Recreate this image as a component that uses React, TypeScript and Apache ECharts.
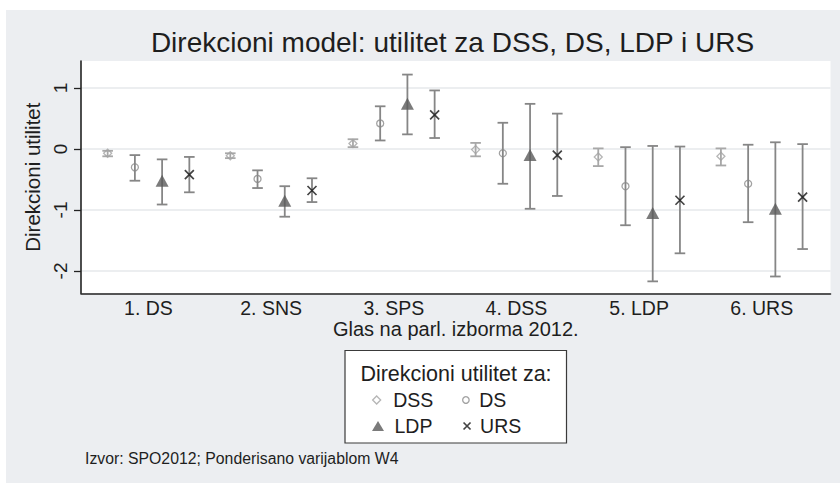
import React, { useEffect, useRef } from 'react';
import * as echarts from 'echarts';

// ---- data ----
const categories = ['1. DS', '2. SNS', '3. SPS', '4. DSS', '5. LDP', '6. URS'];
const yTicks = [-2, -1, 0, 1];
const seriesNames = ['DSS', 'DS', 'LDP', 'URS'];

const dssEst = [-0.07, -0.11, 0.09, -0.01, -0.13, -0.12];
const dssLow = [-0.12, -0.15, 0.03, -0.12, -0.28, -0.27];
const dssHigh = [-0.03, -0.07, 0.16, 0.10, 0.01, 0.01];

const dsEst = [-0.30, -0.49, 0.42, -0.07, -0.61, -0.57];
const dsLow = [-0.52, -0.64, 0.14, -0.57, -1.25, -1.20];
const dsHigh = [-0.10, -0.35, 0.70, 0.43, 0.03, 0.07];

const ldpEst = [-0.52, -0.85, 0.74, -0.10, -1.05, -0.98];
const ldpLow = [-0.91, -1.11, 0.24, -0.98, -2.17, -2.09];
const ldpHigh = [-0.17, -0.61, 1.22, 0.74, 0.05, 0.11];

const ursEst = [-0.42, -0.68, 0.56, -0.10, -0.84, -0.79];
const ursLow = [-0.71, -0.87, 0.18, -0.77, -1.71, -1.64];
const ursHigh = [-0.13, -0.48, 0.96, 0.58, 0.04, 0.08];

const title = 'Direkcioni model: utilitet za DSS, DS, LDP i URS';
const xTitle = 'Glas na parl. izborma 2012.';
const yTitle = 'Direkcioni utilitet';
const legendTitle = 'Direkcioni utilitet za:';
const note = 'Izvor: SPO2012; Ponderisano varijablom W4';

// ---- styling ----
const FONT = '"Liberation Sans", Arial, Helvetica, sans-serif';
const TXT = '#1e1e1e';
const X_SYMBOL = 'path://M0,0L10,10M10,0L0,10';
const DIAMOND_ICON = 'path://M5,0L10,5L5,10L0,5Z';
const TRIANGLE_ICON = 'path://M6,0L12,10L0,10Z';

const groupPos = categories.map((_, i) => i + 1);
const dodge = [-1.5, -0.5, 0.5, 1.5].map((k) => k * 0.222);

type SeriesDef = {
  name: string;
  est: number[];
  low: number[];
  high: number[];
  symbol: string;
  size: number | number[];
  itemStyle: any;
  barColor: string;
  legendIcon: string;
};

const defs: SeriesDef[] = [
  {
    name: seriesNames[0], est: dssEst, low: dssLow, high: dssHigh,
    symbol: 'diamond', size: 8,
    itemStyle: { color: 'rgba(255,255,255,0)', borderColor: '#a2a2a2', borderWidth: 1.3 },
    barColor: '#a8a8a8',
    legendIcon: DIAMOND_ICON,
  },
  {
    name: seriesNames[1], est: dsEst, low: dsLow, high: dsHigh,
    symbol: 'circle', size: 7,
    itemStyle: { color: 'rgba(255,255,255,0)', borderColor: '#8a8a8a', borderWidth: 1.3 },
    barColor: '#868686',
    legendIcon: 'circle',
  },
  {
    name: seriesNames[2], est: ldpEst, low: ldpLow, high: ldpHigh,
    symbol: 'triangle', size: [13, 12],
    itemStyle: { color: '#5a5a5a', borderWidth: 0 },
    barColor: '#868686',
    legendIcon: TRIANGLE_ICON,
  },
  {
    name: seriesNames[3], est: ursEst, low: ursLow, high: ursHigh,
    symbol: X_SYMBOL, size: 9,
    itemStyle: { color: 'rgba(255,255,255,0)', borderColor: '#141414', borderWidth: 1.7 },
    barColor: '#868686',
    legendIcon: X_SYMBOL,
  },
];

function buildOption() {
  const series: any[] = [];
  defs.forEach((d, s) => {
    series.push({
      name: d.name + ' CI',
      type: 'custom',
      z: 2,
      silent: true,
      data: d.est.map((_, i) => [groupPos[i] + dodge[s], d.low[i], d.high[i]]),
      encode: { x: 0, y: [1, 2] },
      renderItem: (params: any, api: any) => {
        const x = api.value(0);
        const p1 = api.coord([x, api.value(2)]);
        const p2 = api.coord([x, api.value(1)]);
        const half = 5.3;
        const st = { stroke: d.barColor, lineWidth: 1.8, fill: 'none' };
        return {
          type: 'group',
          children: [
            { type: 'line', shape: { x1: p1[0], y1: p1[1], x2: p2[0], y2: p2[1] }, style: st },
            { type: 'line', shape: { x1: p1[0] - half, y1: p1[1], x2: p1[0] + half, y2: p1[1] }, style: st },
            { type: 'line', shape: { x1: p2[0] - half, y1: p2[1], x2: p2[0] + half, y2: p2[1] }, style: st },
          ],
        };
      },
    });
  });
  defs.forEach((d, s) => {
    series.push({
      name: d.name,
      type: 'scatter',
      z: 3,
      symbol: d.symbol,
      symbolSize: d.size,
      itemStyle: d.itemStyle,
      data: d.est.map((v, i) => [groupPos[i] + dodge[s], v]),
    });
  });

  const legendText = { fontSize: 19.5, color: TXT, fontFamily: FONT, lineHeight: 20 };
  const mkLegend = (def: SeriesDef, left: number, top: number, w: number, h: number) => ({
    data: [def.name],
    left, top,
    orient: 'horizontal',
    padding: 0,
    icon: def.legendIcon,
    symbolKeepAspect: true,
    itemWidth: w,
    itemHeight: h,
    selectedMode: false,
    textStyle: legendText,
    itemStyle: { ...def.itemStyle },
  });

  return {
    animation: false,
    backgroundColor: 'transparent',
    textStyle: { fontFamily: FONT },
    grid: {
      left: 81, right: 9.5, top: 61, bottom: 189.7,
      show: true, backgroundColor: '#ffffff', borderWidth: 0,
    },
    xAxis: {
      type: 'value',
      min: 0.4497,
      max: 6.5605,
      name: xTitle,
      nameLocation: 'middle',
      nameGap: 25.5,
      nameTextStyle: { fontSize: 20, color: TXT, fontFamily: FONT },
      axisLine: { show: true, onZero: false, lineStyle: { color: '#222', width: 1.6 } },
      axisTick: { show: false },
      splitLine: { show: false },
      axisLabel: {
        customValues: groupPos,
        formatter: (v: number) => categories[Math.round(v) - 1] ?? '',
        fontSize: 19.5,
        color: TXT,
        fontFamily: FONT,
        margin: 5,
      },
    },
    yAxis: {
      type: 'value',
      min: -2.3656,
      max: 1.4426,
      name: yTitle,
      nameLocation: 'middle',
      nameGap: 33,
      nameTextStyle: { fontSize: 20.5, color: TXT, fontFamily: FONT },
      axisLine: { show: true, lineStyle: { color: '#222', width: 1.6 } },
      axisTick: { show: true, customValues: yTicks, length: 7, lineStyle: { color: '#222', width: 1.3 } },
      splitLine: { show: true, lineStyle: { color: '#e6e8eb', width: 1.5 } },
      axisLabel: {
        customValues: yTicks,
        rotate: 90,
        fontSize: 19,
        color: TXT,
        fontFamily: FONT,
        margin: 11,
      },
    },
    legend: [
      mkLegend(defs[0], 372, 390, 23, 8),
      mkLegend(defs[1], 462, 390, 16.6, 6.5),
      mkLegend(defs[2], 372, 416, 23, 10),
      mkLegend(defs[3], 462.7, 416, 16, 7),
    ],
    graphic: [
      {
        type: 'text', x: 452.5, y: 42, silent: true,
        style: { text: title, fontSize: 28, fill: TXT, fontFamily: FONT, textAlign: 'center', textVerticalAlign: 'middle' },
      },
      {
        type: 'rect', x: 345, y: 350.5, z: -1, silent: true,
        shape: { width: 221.5, height: 92.5 },
        style: { fill: '#ffffff', stroke: '#3a3a3a', lineWidth: 1.2 },
      },
      {
        type: 'text', x: 456, y: 373.5, silent: true,
        style: { text: legendTitle, fontSize: 21.5, fill: TXT, fontFamily: FONT, textAlign: 'center', textVerticalAlign: 'middle' },
      },
      {
        type: 'text', x: 85, y: 458, silent: true,
        style: { text: note, fontSize: 15.8, fill: TXT, fontFamily: FONT, textAlign: 'left', textVerticalAlign: 'middle' },
      },
    ],
    series,
  };
}

export default function App() {
  const ref = useRef<HTMLDivElement>(null);
  useEffect(() => {
    if (!ref.current) return;
    const chart = echarts.init(ref.current, undefined, { renderer: 'svg' });
    chart.setOption(buildOption() as any);
    return () => chart.dispose();
  }, []);
  return (
    <div style={{ position: 'fixed', left: 0, top: 0, width: 840, height: 483, background: '#ffffff' }}>
      <div style={{ position: 'absolute', left: 6, top: 10, width: 834, height: 473, background: '#eceef1' }} />
      <div ref={ref} style={{ position: 'absolute', left: 0, top: 0, width: 840, height: 483 }} />
    </div>
  );
}
